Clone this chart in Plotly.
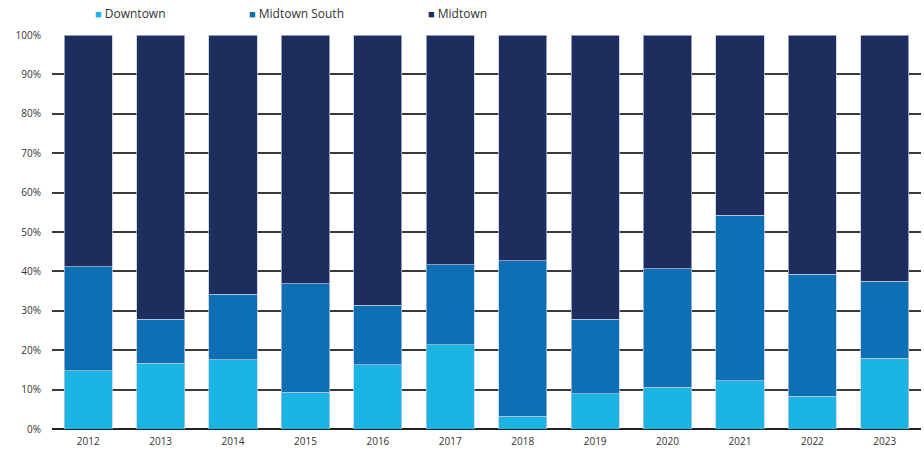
import plotly.graph_objects as go

years = ["2012", "2013", "2014", "2015", "2016", "2017",
         "2018", "2019", "2020", "2021", "2022", "2023"]

# Share of leasing by submarket (percent)
downtown = [14.8, 16.7, 17.6, 9.3, 16.3, 21.4, 3.3, 9.0, 10.6, 12.3, 8.3, 17.9]
downtown_plus_south = [41.2, 27.9, 34.2, 36.9, 31.4, 41.7, 42.7, 27.9, 40.7, 54.3, 39.3, 37.5]

midtown_south = [round(t - d, 1) for t, d in zip(downtown_plus_south, downtown)]
midtown = [round(100 - t, 1) for t in downtown_plus_south]

series_names = ["Downtown", "Midtown South", "Midtown"]
series_values = [downtown, midtown_south, midtown]
colors = ["#1bb4e3", "#0e6fb5", "#1c2d5e"]

fig = go.Figure()
for name, vals, col in zip(series_names, series_values, colors):
    fig.add_trace(go.Bar(
        x=years,
        y=[v / 100 for v in vals],
        name=name,
        marker=dict(color=col, line=dict(color="rgba(190,200,220,0.9)", width=0.8)),
        showlegend=False,
    ))

# Compact legend row along the top
legend_x = [0.047, 0.224, 0.430]
for name, col, lx in zip(series_names, colors, legend_x):
    fig.add_annotation(
        xref="paper", yref="paper", x=lx, y=1.0, yshift=22,
        xanchor="left", yanchor="middle", showarrow=False,
        text=f"<span style='color:{col}; font-size:11px'>■</span> {name}",
        font=dict(family="Open Sans", size=12, color="#333333"),
    )

fig.update_layout(
    barmode="stack",
    bargap=0.335,
    width=924, height=451,
    margin=dict(l=52, r=3, t=35, b=22),
    plot_bgcolor="white", paper_bgcolor="white",
    font=dict(family="Open Sans", size=10, color="#333333"),
)
fig.update_xaxes(showgrid=False, ticks="", showline=False, ticklabelstandoff=5,
                 automargin=False, tickfont=dict(size=10, color="#333333"))
fig.update_yaxes(range=[0, 1], dtick=0.1, tickformat=".0%",
                 showgrid=True, gridcolor="#3a3a3a", gridwidth=1.5,
                 zeroline=True, zerolinecolor="#222222", zerolinewidth=1.5,
                 ticks="", ticklabelstandoff=10, automargin=False,
                 tickfont=dict(size=10, color="#333333"))

fig.write_html("out.html")
